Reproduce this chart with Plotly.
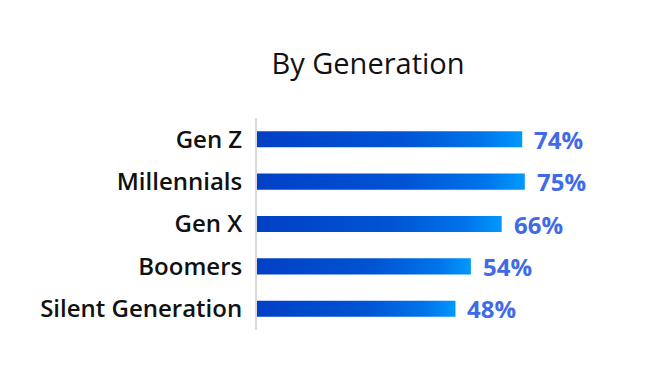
import plotly.graph_objects as go

categories = ["Gen Z", "Millennials", "Gen X", "Boomers", "Silent Generation"]
values = [74, 75, 66, 54, 48]
value_labels = ["74%", "75%", "66%", "54%", "48%"]
title_text = "By Generation"

AXIS_START = -29.3   # left edge of the value axis (bars grow from here)
AXIS_END = 115.2
HALF = 0.19          # half bar thickness in category units

fig = go.Figure()
for i, v in enumerate(values):
    fig.add_trace(go.Scatter(
        x=[AXIS_START, v, v, AXIS_START, AXIS_START],
        y=[i - HALF, i - HALF, i + HALF, i + HALF, i - HALF],
        mode="lines", line=dict(width=0),
        fill="toself",
        fillgradient=dict(type="horizontal",
                          colorscale=[[0, "#0040c6"], [0.55, "#0054d4"], [0.85, "#0074ea"], [1, "#0099ff"]]),
        hoverinfo="skip", showlegend=False,
    ))

for i, (v, lab) in enumerate(zip(values, value_labels)):
    fig.add_annotation(x=v, y=i, text=lab, showarrow=False, xanchor="left", yanchor="middle",
                       xshift=10, font=dict(family="Open Sans", size=24, color="#416ae8", weight=700))

fig.update_layout(
    width=652, height=367,
    margin=dict(l=249, r=32, t=110, b=45),
    paper_bgcolor="white", plot_bgcolor="white",
    title=dict(text=title_text, x=360/652, xanchor="center", xref="container",
               y=1 - 56/367, yanchor="middle", yref="container",
               font=dict(family="Open Sans", size=29, color="#111111")),
    xaxis=dict(range=[AXIS_START, AXIS_END], visible=False, showgrid=False, zeroline=False, fixedrange=True),
    yaxis=dict(range=[4.5, -0.5], tickvals=list(range(len(categories))), ticktext=categories,
               showgrid=False, zeroline=False, showline=True, linecolor="#d9d9d9", linewidth=2,
               ticks="", ticklabelstandoff=8,
               tickfont=dict(family="Open Sans", size=24, color="#111111", weight=600)),
)

fig.write_html("out.html")
